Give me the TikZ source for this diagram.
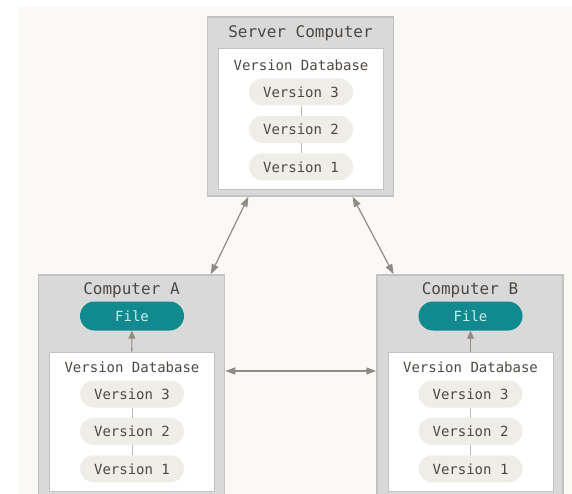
\documentclass[tikz,border=0pt]{standalone}
\usepackage{fontspec}
\setmonofont{DejaVu Sans Mono}
\usetikzlibrary{positioning,arrows.meta}

\definecolor{paper}{HTML}{FAF9F6}
\definecolor{boxgray}{HTML}{D9D9D9}
\definecolor{boxline}{HTML}{C2C2C2}
\definecolor{pill}{HTML}{EEEDE7}
\definecolor{ink}{HTML}{4D4843}
\definecolor{tealfile}{HTML}{10898F}
\definecolor{filetext}{HTML}{CDEBEA}
\definecolor{arrowgray}{HTML}{8F8A84}
\definecolor{chaingray}{HTML}{BDB8B0}

\begin{document}
\begin{tikzpicture}[x=1pt, y=-1pt, node distance=10pt,
    every node/.style={font=\ttfamily\fontsize{14}{16}\selectfont, text=ink},
    machine/.style={draw=boxline, line width=1.5pt, fill=boxgray, minimum width=186pt},
    store/.style={draw=boxline, line width=1pt, fill=white, minimum width=165pt},
    version/.style={fill=pill, rounded corners=13.5pt, minimum width=104pt, minimum height=27pt, inner sep=0pt},
    workfile/.style={version, fill=tealfile, text=filetext, minimum height=29pt, rounded corners=14.5pt},
    title/.style={font=\ttfamily\fontsize{16}{18}\selectfont},
    chain/.style={draw=chaingray, line width=1pt},
    link/.style={draw=arrowgray, line width=1.2pt, {Triangle[length=10pt,width=7pt]}-{Triangle[length=10pt,width=7pt]}},
    feed/.style={draw=arrowgray, line width=1.2pt, -{Triangle[length=8pt,width=7pt]}}]
    % page and backdrop
    \useasboundingbox (0,0) rectangle (572,494);
    \fill[white] (0,0) rectangle (572,494);
    \fill[paper] (18,7) rectangle (572,494);

    % central server
    \node[machine, minimum height=179pt] (server) at (300.5,106.5) {};
    \node[store, minimum height=141pt] (dbS) at (301,119.5) {};
    \node[title] (titleS) at (300.5,33) {Server Computer};
    \node (labelS) at (301,65) {Version Database};
    \node[version] (s3) at (301,92) {Version 3};
    \node[version, below=of s3] (s2) {Version 2};
    \node[version, below=of s2] (s1) {Version 1};
    \draw[chain] (s3) -- (s2);
    \draw[chain] (s2) -- (s1);

    % computer A
    \node[machine, minimum height=225pt] (compA) at (131.5,387.5) {};
    \node[store, minimum height=139pt] (dbA) at (131.5,421.5) {};
    \node[title] (titleA) at (131.5,290) {Computer A};
    \node[workfile] (fileA) at (132,316) {File};
    \node (labelA) at (132,367) {Version Database};
    \node[version] (a3) at (132,394) {Version 3};
    \node[version, below=of a3] (a2) {Version 2};
    \node[version, below=of a2] (a1) {Version 1};
    \draw[chain] (a3) -- (a2);
    \draw[chain] (a2) -- (a1);

    % computer B
    \node[machine, minimum height=225pt] (compB) at (470,387.5) {};
    \node[store, minimum height=139pt] (dbB) at (470.5,421.5) {};
    \node[title] (titleB) at (470,290) {Computer B};
    \node[workfile] (fileB) at (470.5,316) {File};
    \node (labelB) at (470.5,367) {Version Database};
    \node[version] (b3) at (470.5,394) {Version 3};
    \node[version, below=of b3] (b2) {Version 2};
    \node[version, below=of b2] (b1) {Version 1};
    \draw[chain] (b3) -- (b2);
    \draw[chain] (b2) -- (b1);

    % checkouts and exchanges
    \draw[feed] (dbA) -- (fileA);
    \draw[feed] (dbB) -- (fileB);
    \draw[link] (server.-120) -- (compA.55);
    \draw[link] (server.-60) -- (compB.124);
    \draw[link] (compA.10) -- (compB.170);
\end{tikzpicture}
\end{document}
